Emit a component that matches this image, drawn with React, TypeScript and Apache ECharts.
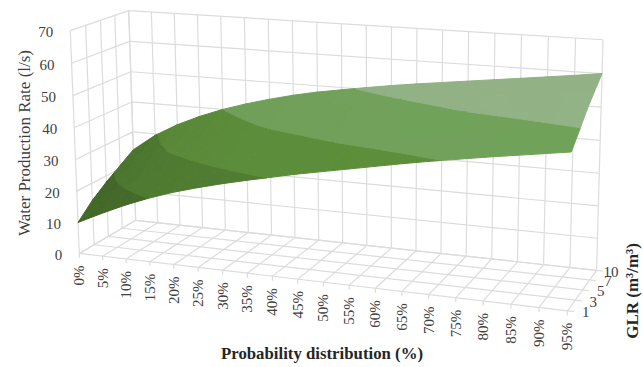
import React, { useEffect, useRef } from "react";
import * as echarts from "echarts";

const probabilityLabels = ["0%","5%","10%","15%","20%","25%","30%","35%","40%","45%","50%","55%","60%","65%","70%","75%","80%","85%","90%","95%"];
const glrLabels = ["1","3","5","7","10"];
const rateTicks = [0,10,20,30,40,50,60,70];

const rateGlr1 = [10,13.6,17,20,22.6,24.8,26.8,28.6,30.3,32,33.5,35,36.5,38,39.4,40.7,42,43.2,44.4,45.6];
const rateGlr3 = [14.5,18.8,22.6,25.9,28.7,31,33.1,35,36.8,38.4,40,41.3,42.5,43.6,44.7,45.7,46.7,47.6,48.6,49.5];
const rateGlr5 = [18,23,27.6,31.2,34,36.4,38.4,40.2,41.8,43.3,44.7,46,47.2,48.3,49.4,50.3,51.1,51.9,52.7,53.5];
const rateGlr7 = [21,26.5,30.8,34.1,37,39.4,41.5,43.4,45,46.5,47.9,49.1,50.2,51.2,52.1,53,53.9,54.9,55.9,56.8];
const rateGlr10 = [24,29.5,33.7,37.1,40,42.4,44.5,46.4,48,49.3,50.6,51.8,52.9,53.9,54.9,55.9,56.9,57.9,58.9,60];
const surfaceRows = [rateGlr1, rateGlr3, rateGlr5, rateGlr7, rateGlr10];

const bandColors = ["#466d2b","#466d2b","#507d32","#5c8d3a","#70a059","#90b083","#90b083"];
const FONT = '"Liberation Serif"';
const W = 643, H = 367, ZMAX = 70;

// Camera fit: unit box corner -> screen position
const anchors: number[][] = [
  [0,0,0,80,253],[1,0,0,567,312],[1,1,0,597,269],[0,1,0,135,221],
  [0,0,1,70,30],[0,1,1,129,11],[1,1,1,603,40],
];
function solveCamera(): number[] {
  const rows: number[][] = [];
  for (const [u,v,w,x,y] of anchors) {
    rows.push([u,v,w,1,0,0,0,0,-x*u,-x*v,-x*w,x]);
    rows.push([0,0,0,0,u,v,w,1,-y*u,-y*v,-y*w,y]);
  }
  const n = 11;
  const A: number[][] = [];
  for (let i=0;i<n;i++){ const r:number[]=[]; for(let j=0;j<=n;j++){ let s=0; for(const row of rows) s+=row[i]*row[j]; r.push(s);} A.push(r);}
  for (let c=0;c<n;c++){
    let p=c; for(let r=c+1;r<n;r++) if(Math.abs(A[r][c])>Math.abs(A[p][c])) p=r;
    [A[c],A[p]]=[A[p],A[c]];
    for(let r=0;r<n;r++){ if(r===c) continue; const f=A[r][c]/A[c][c]; for(let k=c;k<=n;k++) A[r][k]-=f*A[c][k]; }
  }
  return A.map((r,i)=>r[n]/r[i]);
}
const cam = solveCamera();
function project(u:number,v:number,w:number):[number,number]{
  const d = cam[8]*u+cam[9]*v+cam[10]*w+1;
  return [(cam[0]*u+cam[1]*v+cam[2]*w+cam[3])/d,(cam[4]*u+cam[5]*v+cam[6]*w+cam[7])/d];
}
const nU = probabilityLabels.length-1, nV = glrLabels.length-1;

// grid lines: [u0,v0,w0,u1,v1,w1]
const gridLines:number[][] = [];
rateTicks.forEach(t=>{ const w=t/ZMAX;
  gridLines.push([0,0,w,0,1,w]);
  gridLines.push([0,1,w,1,1,w]);
});
probabilityLabels.forEach((_,i)=>{ const u=i/nU;
  gridLines.push([u,1,0,u,1,1]);
  gridLines.push([u,0,0,u,1,0]);
  gridLines.push([u,0,-0.02,u,0,0]);
});
glrLabels.forEach((_,j)=>{ const v=j/nV;
  gridLines.push([0,v,0,0,v,1]);
  gridLines.push([0,v,0,1.012,v,0]);
});

type V = [number,number,number];
function clipBand(poly:V[],lo:number,hi:number):V[]{
  const clip=(pts:V[],lim:number,keepAbove:boolean):V[]=>{
    const out:V[]=[];
    for(let i=0;i<pts.length;i++){
      const a=pts[i],b=pts[(i+1)%pts.length];
      const ia=keepAbove?a[2]>=lim:a[2]<=lim, ib=keepAbove?b[2]>=lim:b[2]<=lim;
      if(ia) out.push(a);
      if(ia!==ib){ const t=(lim-a[2])/(b[2]-a[2]); out.push([a[0]+t*(b[0]-a[0]),a[1]+t*(b[1]-a[1]),lim]); }
    }
    return out;
  };
  const p=clip(poly,lo,true); return p.length?clip(p,hi,false):p;
}
function shade(hex:string,f:number){
  const n=parseInt(hex.slice(1),16);
  const c=[n>>16,(n>>8)&255,n&255].map(x=>Math.min(255,Math.round(x*f)));
  return `rgb(${c[0]},${c[1]},${c[2]})`;
}

const cells:number[][]=[];
for(let j=nV-1;j>=0;j--) for(let i=0;i<nU;i++) cells.push([i,j]);

export default function App(){
  const ref=useRef<HTMLDivElement>(null);
  useEffect(()=>{
    const chart=echarts.init(ref.current!,undefined,{renderer:"svg"});
    const pt=(api:any,u:number,v:number,w:number)=>api.coord(project(u,v,w));
    const tick={font:`15px ${FONT}`,fill:"#404040",verticalAlign:"middle"};
    const option:any={
      animation:false,
      grid:{left:0,right:0,top:0,bottom:0},
      xAxis:{type:"value",min:0,max:W,show:false},
      yAxis:{type:"value",min:0,max:H,inverse:true,show:false},
      series:[
        {type:"custom",silent:true,data:gridLines,encode:{x:0,y:1},
          renderItem:(_:any,api:any)=>{
            const a=pt(api,api.value(0),api.value(1),api.value(2));
            const b=pt(api,api.value(3),api.value(4),api.value(5));
            return {type:"line",shape:{x1:a[0],y1:a[1],x2:b[0],y2:b[1]},style:{stroke:"#dcdcdc",lineWidth:1.2}};
          }},
        {type:"custom",silent:true,data:cells,encode:{x:0,y:1},
          renderItem:(_:any,api:any)=>{
            const i=api.value(0),j=api.value(1);
            const Z=(a:number,b:number)=>surfaceRows[b][a];
            const q=(a:number,b:number):V=>[a,b,Z(a,b)];
            const slope=(Z(i+1,j)-Z(i,j)+Z(i+1,j+1)-Z(i,j+1))/2;
            const f=1.03-0.018*slope;
            const tris:V[][]=[[q(i,j),q(i+1,j),q(i+1,j+1)],[q(i,j),q(i+1,j+1),q(i,j+1)]];
            const children:any[]=[];
            tris.forEach(tri=>{
              bandColors.forEach((col,b)=>{
                const poly=clipBand(tri,b*10,(b+1)*10);
                if(poly.length<3) return;
                const c=shade(col,f);
                children.push({type:"polygon",
                  shape:{points:poly.map(p=>pt(api,p[0]/nU,p[1]/nV,p[2]/ZMAX))},
                  style:{fill:c,stroke:c,lineWidth:1}});
              });
            });
            return {type:"group",children};
          }},
      ],
      graphic:[
        ...rateTicks.map(t=>{const p=project(0,0,t/ZMAX);
          return {type:"text",x:p[0]-17,y:p[1]+1.5,style:{...tick,text:String(t),align:"right"}};}),
        ...probabilityLabels.map((s,i)=>{const p=project(i/nU,0,0);
          const half=((s.length-1)*7.5+12.5)/2;
          return {type:"text",x:p[0],y:p[1]+12+half,rotation:1.5707963,style:{...tick,text:s,align:"center"}};}),
        ...glrLabels.map((s,j)=>{const p=project(1,j/nV,0);
          return {type:"text",x:p[0]+22,y:p[1]+1.5,style:{...tick,text:s,align:"right"}};}),
        {type:"text",x:24,y:143,rotation:Math.PI/2,style:{text:"Water Production Rate (l/s)",font:`17px ${FONT}`,fill:"#404040",align:"center",verticalAlign:"middle"}},
        {type:"text",x:322,y:353,style:{text:"Probability distribution (%)",font:`bold 16.8px ${FONT}`,fill:"#262626",align:"center",verticalAlign:"middle"}},
        {type:"text",x:632,y:291,rotation:Math.PI/2,style:{text:"GLR (m³/m³)",font:`bold 17px ${FONT}`,fill:"#262626",align:"center",verticalAlign:"middle"}},
      ],
    };
    chart.setOption(option);
    return ()=>chart.dispose();
  },[]);
  return <div ref={ref} style={{position:"fixed",left:0,top:0,width:W,height:H,background:"#fff"}}/>;
}
